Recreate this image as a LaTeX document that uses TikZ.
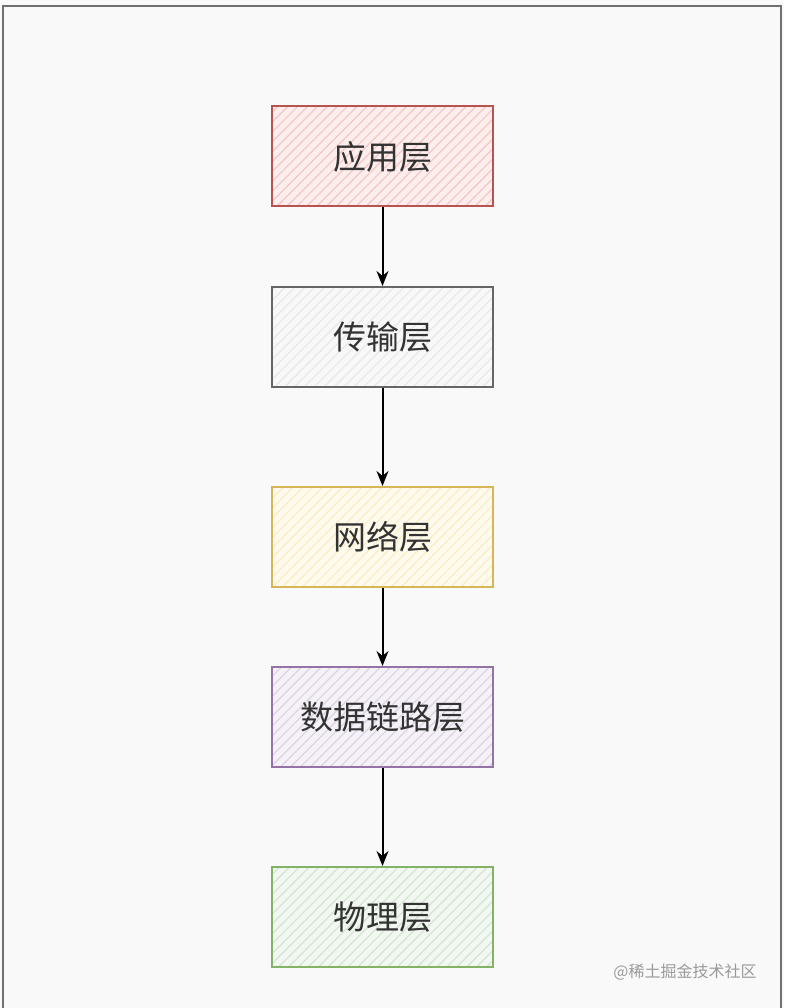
\documentclass[tikz,border=0pt]{standalone}
\usepackage{fontspec}
\newfontfamily\cjk{Noto Sans CJK SC}
\usepackage{xcolor}
\usetikzlibrary{
  positioning, arrows.meta, patterns.meta,
}
\definecolor{layerRedLine}   {HTML}{B85450}
\definecolor{layerRedFill}   {HTML}{F4C6C4}
\definecolor{layerGreyLine}  {HTML}{666666}
\definecolor{layerGreyFill}  {HTML}{E8E8E8}
\definecolor{layerYellowLine}{HTML}{D6B656}
\definecolor{layerYellowFill}{HTML}{FBEDC4}
\definecolor{layerPurpleLine}{HTML}{9673A6}
\definecolor{layerPurpleFill}{HTML}{DDD2E4}
\definecolor{layerGreenLine} {HTML}{82B366}
\definecolor{layerGreenFill} {HTML}{D2E5CF}
\definecolor{cBack} {HTML}{F9F9F9}
\definecolor{cFrame}{HTML}{707070}
\definecolor{cText} {HTML}{333333}
\definecolor{cMuted}{HTML}{9A9A9A}

\begin{document}
\begin{tikzpicture}[x=1pt, y=1pt,
    layer/.style={draw, line width=2pt, minimum width=221pt, minimum height=100pt,
      inner sep=0pt, text=cText, font=\cjk\fontsize{33}{33}\selectfont},
    link/.style={-{Stealth[length=15pt, width=12pt]}, line width=2pt, black}]
        \useasboundingbox (0,0) rectangle (784,-1008);
        \fill[cBack] (0,0) rectangle (784,-1008);
        \draw[cFrame, line width=2pt] (3,-1010) -- (3,-6) -- (781,-6) -- (781,-1010);
        \foreach \name/\y/\txt/\col in
          {app/156.5/应用层/Red, trans/337/传输层/Grey, net/537/网络层/Yellow,
           link/717/数据链路层/Purple, phys/917/物理层/Green}{
          \node[layer, draw=layer\col Line,
                preaction={fill=layer\col Fill!30!white},
                preaction={pattern={Lines[angle=45, distance=7pt, line width=1.2pt]},
                           pattern color=layer\col Fill}]
                (\name) at (382.5, -\y) {\txt};
        }
        \draw[link] (app) -- (trans);
        \draw[link] (trans) -- (net);
        \draw[link] (net) -- (link);
        \draw[link] (link) -- (phys);
        \node[font=\cjk\fontsize{16}{16}\selectfont, text=cMuted] (mark) at (685, -972) {@稀土掘金技术社区};
      \end{tikzpicture}
\end{document}
